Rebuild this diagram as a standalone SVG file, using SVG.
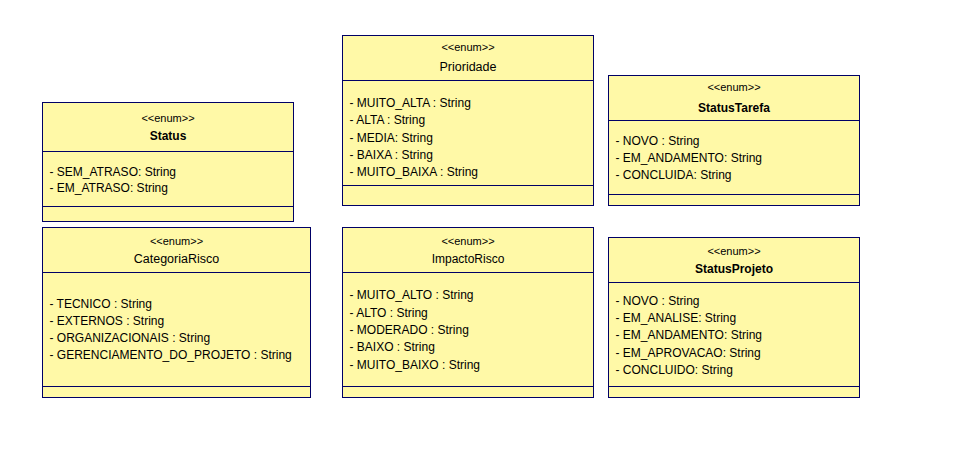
<svg xmlns="http://www.w3.org/2000/svg" width="964" height="455" viewBox="0 0 964 455">
<style>
.box{fill:#FFF9A7;stroke:#000066;stroke-width:1}
.sep{stroke:#000066;stroke-width:1;fill:none}
text{font-family:"Liberation Sans",Arial,Helvetica,sans-serif;font-size:12px;fill:#000}
.st{text-anchor:middle;font-size:11px}
.nm{text-anchor:middle;font-size:12.5px}
.b{font-weight:bold;font-size:12px}
</style>
<rect width="964" height="455" fill="#ffffff"/>
<g id="Status">
<rect class="box" x="42.5" y="102.5" width="251" height="119"/>
<line class="sep" x1="42.5" y1="151.5" x2="293.5" y2="151.5"/>
<line class="sep" x1="42.5" y1="206.5" x2="293.5" y2="206.5"/>
<text class="st" x="168" y="122">&lt;&lt;enum&gt;&gt;</text>
<text class="nm b" x="168" y="140">Status</text>
<text x="49.5" y="175.5">- SEM_ATRASO: String</text>
<text x="49.5" y="191.5">- EM_ATRASO: String</text>
</g>
<g id="Prioridade">
<rect class="box" x="342.5" y="35.5" width="251" height="170"/>
<line class="sep" x1="342.5" y1="80.5" x2="593.5" y2="80.5"/>
<line class="sep" x1="342.5" y1="185.5" x2="593.5" y2="185.5"/>
<text class="st" x="468" y="51">&lt;&lt;enum&gt;&gt;</text>
<text class="nm" x="468" y="70.5">Prioridade</text>
<text x="349.5" y="107">- MUITO_ALTA : String</text>
<text x="349.5" y="124.3">- ALTA : String</text>
<text x="349.5" y="141.6">- MEDIA: String</text>
<text x="349.5" y="158.9">- BAIXA : String</text>
<text x="349.5" y="176.2">- MUITO_BAIXA : String</text>
</g>
<g id="StatusTarefa">
<rect class="box" x="608.5" y="75.5" width="251" height="130"/>
<line class="sep" x1="608.5" y1="120.5" x2="859.5" y2="120.5"/>
<line class="sep" x1="608.5" y1="194.5" x2="859.5" y2="194.5"/>
<text class="st" x="734" y="91">&lt;&lt;enum&gt;&gt;</text>
<text class="nm b" x="734" y="111.5">StatusTarefa</text>
<text x="615.5" y="145">- NOVO : String</text>
<text x="615.5" y="162">- EM_ANDAMENTO: String</text>
<text x="615.5" y="179">- CONCLUIDA: String</text>
</g>
<g id="CategoriaRisco">
<rect class="box" x="42.5" y="227.5" width="268" height="170"/>
<line class="sep" x1="42.5" y1="272.5" x2="310.5" y2="272.5"/>
<line class="sep" x1="42.5" y1="386.5" x2="310.5" y2="386.5"/>
<text class="st" x="176.5" y="245">&lt;&lt;enum&gt;&gt;</text>
<text class="nm" x="176.5" y="263">CategoriaRisco</text>
<text x="49.5" y="307.5">- TECNICO : String</text>
<text x="49.5" y="324.8">- EXTERNOS : String</text>
<text x="49.5" y="342.1">- ORGANIZACIONAIS : String</text>
<text x="49.5" y="359.4">- GERENCIAMENTO_DO_PROJETO : String</text>
</g>
<g id="ImpactoRisco">
<rect class="box" x="342.5" y="227.5" width="251" height="170"/>
<line class="sep" x1="342.5" y1="272.5" x2="593.5" y2="272.5"/>
<line class="sep" x1="342.5" y1="386.5" x2="593.5" y2="386.5"/>
<text class="st" x="468" y="245">&lt;&lt;enum&gt;&gt;</text>
<text class="nm" x="468" y="263" style="font-size:12px">ImpactoRisco</text>
<text x="349.5" y="299.3">- MUITO_ALTO : String</text>
<text x="349.5" y="316.6">- ALTO : String</text>
<text x="349.5" y="333.9">- MODERADO : String</text>
<text x="349.5" y="351.2">- BAIXO : String</text>
<text x="349.5" y="368.5">- MUITO_BAIXO : String</text>
</g>
<g id="StatusProjeto">
<rect class="box" x="608.5" y="237.5" width="251" height="160"/>
<line class="sep" x1="608.5" y1="282.5" x2="859.5" y2="282.5"/>
<line class="sep" x1="608.5" y1="386.5" x2="859.5" y2="386.5"/>
<text class="st" x="734" y="255">&lt;&lt;enum&gt;&gt;</text>
<text class="nm b" x="734" y="272.5">StatusProjeto</text>
<text x="615.5" y="305">- NOVO : String</text>
<text x="615.5" y="322">- EM_ANALISE: String</text>
<text x="615.5" y="339">- EM_ANDAMENTO: String</text>
<text x="615.5" y="356.5">- EM_APROVACAO: String</text>
<text x="615.5" y="373.5">- CONCLUIDO: String</text>
</g>
<g id="connectors"></g>
</svg>
